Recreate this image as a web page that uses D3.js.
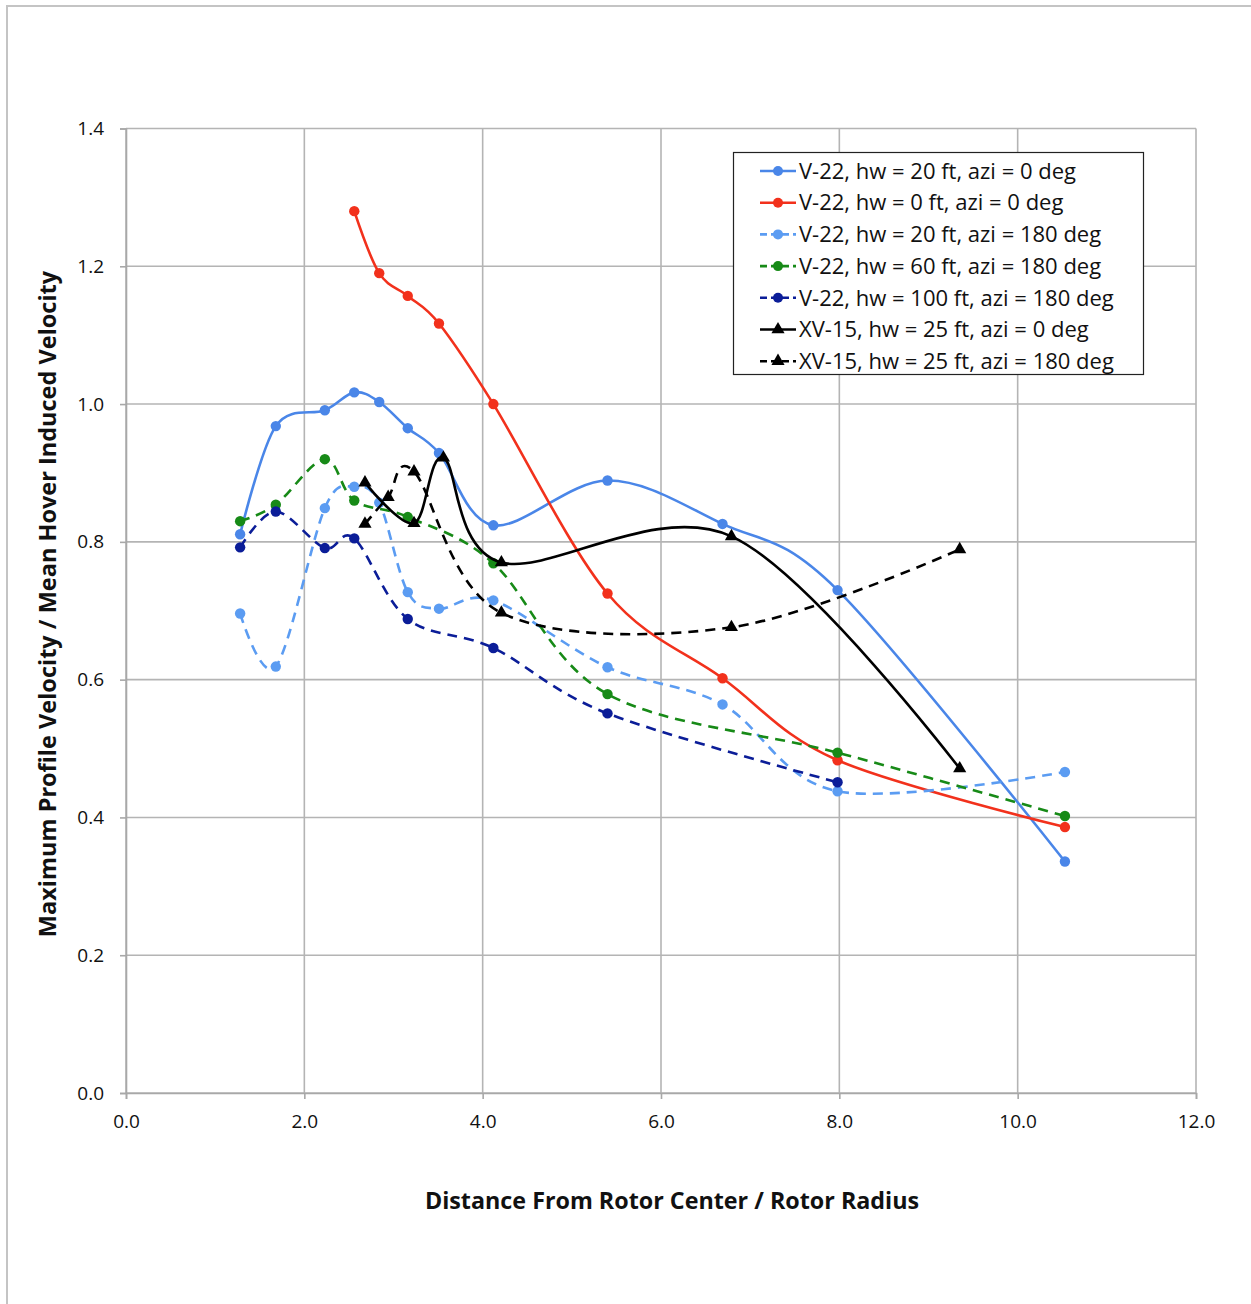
<!DOCTYPE html>
<html>
<head>
<meta charset="utf-8">
<script src="https://cdn.jsdelivr.net/npm/d3@7"></script>
<style>
  html, body { margin: 0; padding: 0; background: #fff; }
  svg { display: block; }
  text { font-family: "Open Sans", "Liberation Sans", sans-serif; fill: #111; }
</style>
</head>
<body>
<svg id="chart" width="1251" height="1304"></svg>
<script>
// Distance from rotor center (r/R) and normalised peak outwash velocity per test case
const v22Hw20Azi0X   = [1.28, 1.68, 2.23, 2.56, 2.84, 3.16, 3.51, 4.12, 5.40, 6.69, 7.98, 10.53];
const v22Hw20Azi0Y   = [0.811, 0.968, 0.991, 1.017, 1.003, 0.965, 0.929, 0.824, 0.889, 0.826, 0.730, 0.336];

const v22Hw0Azi0X    = [2.56, 2.84, 3.16, 3.51, 4.12, 5.40, 6.69, 7.98, 10.53];
const v22Hw0Azi0Y    = [1.280, 1.190, 1.157, 1.117, 1.000, 0.725, 0.602, 0.483, 0.386];

const v22Hw20Azi180X = [1.28, 1.68, 2.23, 2.56, 2.84, 3.16, 3.51, 4.12, 5.40, 6.69, 7.98, 10.53];
const v22Hw20Azi180Y = [0.696, 0.619, 0.849, 0.880, 0.857, 0.727, 0.703, 0.715, 0.618, 0.564, 0.438, 0.466];

const v22Hw60Azi180X = [1.28, 1.68, 2.23, 2.56, 3.16, 4.12, 5.40, 7.98, 10.53];
const v22Hw60Azi180Y = [0.830, 0.854, 0.920, 0.860, 0.836, 0.769, 0.579, 0.494, 0.402];

const v22Hw100Azi180X = [1.28, 1.68, 2.23, 2.56, 3.16, 4.12, 5.40, 7.98];
const v22Hw100Azi180Y = [0.792, 0.844, 0.791, 0.805, 0.688, 0.646, 0.551, 0.451];

const xv15Hw25Azi0X   = [2.68, 3.23, 3.56, 4.21, 6.79, 9.35];
const xv15Hw25Azi0Y   = [0.886, 0.827, 0.922, 0.770, 0.808, 0.471];

const xv15Hw25Azi180X = [2.68, 2.94, 3.23, 4.21, 6.79, 9.35];
const xv15Hw25Azi180Y = [0.826, 0.865, 0.902, 0.697, 0.676, 0.789];

const seriesNames = [
  "V-22, hw = 20 ft, azi = 0 deg",
  "V-22, hw = 0 ft, azi = 0 deg",
  "V-22, hw = 20 ft, azi = 180 deg",
  "V-22, hw = 60 ft, azi = 180 deg",
  "V-22, hw = 100 ft, azi = 180 deg",
  "XV-15, hw = 25 ft, azi = 0 deg",
  "XV-15, hw = 25 ft, azi = 180 deg"
];

const xTickValues = [0, 2, 4, 6, 8, 10, 12];
const yTickValues = [0, 0.2, 0.4, 0.6, 0.8, 1.0, 1.2, 1.4];

const xTitle = "Distance From Rotor Center / Rotor Radius";
const yTitle = "Maximum Profile Velocity / Mean Hover Induced Velocity";

// Styling for each series, in legend order
const styles = [
  { color: "#4a86e8", dash: null,   marker: "circle" },
  { color: "#f2311c", dash: null,   marker: "circle" },
  { color: "#5b9cf2", dash: "10,7", marker: "circle" },
  { color: "#178a17", dash: "10,7", marker: "circle" },
  { color: "#0b1d98", dash: "10,7", marker: "circle" },
  { color: "#000000", dash: null,   marker: "triangle" },
  { color: "#000000", dash: "10,7", marker: "triangle" }
];

const xs = [v22Hw20Azi0X, v22Hw0Azi0X, v22Hw20Azi180X, v22Hw60Azi180X, v22Hw100Azi180X, xv15Hw25Azi0X, xv15Hw25Azi180X];
const ys = [v22Hw20Azi0Y, v22Hw0Azi0Y, v22Hw20Azi180Y, v22Hw60Azi180Y, v22Hw100Azi180Y, xv15Hw25Azi0Y, xv15Hw25Azi180Y];

const series = seriesNames.map((name, i) => ({
  name,
  style: styles[i],
  points: xs[i].map((x, j) => ({ x, y: ys[i][j] }))
}));

const svg = d3.select("#chart");

// Outer chart frame
svg.append("rect")
  .attr("x", 7).attr("y", 6)
  .attr("width", 1400).attr("height", 1400)
  .attr("fill", "#fff")
  .attr("stroke", "#c4c4c4")
  .attr("stroke-width", 2);

const plot = { left: 126, right: 1196, top: 128.5, bottom: 1093 };

const x = d3.scaleLinear().domain([0, 12]).range([plot.left, plot.right]);
const y = d3.scaleLinear().domain([0, 1.4]).range([plot.bottom, plot.top]);

// Gridlines
const grid = svg.append("g").attr("class", "grid");
grid.selectAll("line.h").data(yTickValues).join("line")
  .attr("x1", plot.left).attr("x2", plot.right)
  .attr("y1", d => y(d)).attr("y2", d => y(d))
  .attr("stroke", "#b4b4b4").attr("stroke-width", 1.6);
grid.selectAll("line.v").data(xTickValues).join("line")
  .attr("y1", plot.top).attr("y2", plot.bottom)
  .attr("x1", d => x(d)).attr("x2", d => x(d))
  .attr("stroke", "#b4b4b4").attr("stroke-width", 1.6);

// Axes
const xAxis = d3.axisBottom(x).tickValues(xTickValues).tickFormat(d3.format(".1f"))
  .tickSize(6).tickPadding(16);
const yAxis = d3.axisLeft(y).tickValues(yTickValues).tickFormat(d3.format(".1f"))
  .tickSize(6).tickPadding(16);

const gx = svg.append("g").attr("transform", `translate(0,${plot.bottom})`).call(xAxis);
const gy = svg.append("g").attr("transform", `translate(${plot.left},0)`).call(yAxis);
[gx, gy].forEach(g => {
  g.select(".domain").attr("stroke", "#a8a8a8").attr("stroke-width", 1.6);
  g.selectAll(".tick line").attr("stroke", "#a8a8a8").attr("stroke-width", 1.6);
  g.selectAll(".tick text")
    .attr("font-family", "'Open Sans', sans-serif")
    .attr("font-size", 19)
    .attr("fill", "#111");
});

// Axis titles
svg.append("text")
  .attr("x", 672).attr("y", 1209)
  .attr("text-anchor", "middle")
  .attr("font-size", 23.3).attr("font-weight", "bold")
  .text(xTitle);

svg.append("text")
  .attr("transform", `translate(56,604) rotate(-90)`)
  .attr("text-anchor", "middle")
  .attr("font-size", 23.5).attr("font-weight", "bold")
  .text(yTitle);

// Series lines
const line = d3.line()
  .x(d => x(d.x)).y(d => y(d.y))
  .curve(d3.curveCardinal.tension(0));

const tri = d3.symbol().type(d3.symbolTriangle).size(75);

const gSeries = svg.append("g");
series.forEach(s => {
  const g = gSeries.append("g");
  g.append("path")
    .datum(s.points)
    .attr("d", line)
    .attr("fill", "none")
    .attr("stroke", s.style.color)
    .attr("stroke-width", 2.6)
    .attr("stroke-dasharray", s.style.dash);
  if (s.style.marker === "circle") {
    g.selectAll("circle").data(s.points).join("circle")
      .attr("cx", d => x(d.x)).attr("cy", d => y(d.y))
      .attr("r", 5.2).attr("fill", s.style.color);
  } else {
    g.selectAll("path.m").data(s.points).join("path")
      .attr("class", "m")
      .attr("d", tri)
      .attr("transform", d => `translate(${x(d.x)},${y(d.y)})`)
      .attr("fill", s.style.color);
  }
});

// Legend
const legend = svg.append("g");
legend.append("rect")
  .attr("x", 733.5).attr("y", 152.5)
  .attr("width", 410).attr("height", 222)
  .attr("fill", "#fff").attr("stroke", "#222").attr("stroke-width", 1.2);

const rowY = i => 171 + i * 31.7;
series.forEach((s, i) => {
  const gy0 = rowY(i);
  const row = legend.append("g");
  row.append("line")
    .attr("x1", 760).attr("x2", 796)
    .attr("y1", gy0).attr("y2", gy0)
    .attr("stroke", s.style.color).attr("stroke-width", 2.6)
    .attr("stroke-dasharray", s.style.dash ? "7,4" : null);
  if (s.style.marker === "circle") {
    row.append("circle").attr("cx", 778).attr("cy", gy0).attr("r", 5).attr("fill", s.style.color);
  } else {
    row.append("path").attr("d", tri).attr("transform", `translate(778,${gy0})`).attr("fill", s.style.color);
  }
  row.append("text")
    .attr("x", 799).attr("y", gy0)
    .attr("dy", "0.35em")
    .attr("font-size", 22)
    .text(s.name);
});
</script>
</body>
</html>
